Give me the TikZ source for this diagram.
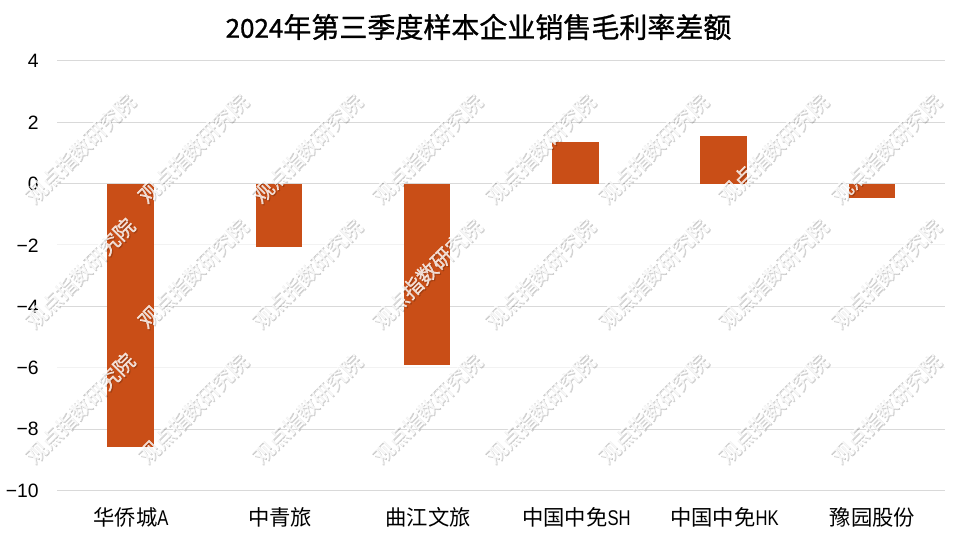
\documentclass[tikz,border=0pt]{standalone}
\usepackage{fontspec}
\setmainfont{Liberation Sans}
\newfontfamily\cjk{Noto Sans CJK SC}
\newfontfamily\cjkb{Noto Sans CJK SC}[FakeBold=1.0]
\newfontfamily\halfw{Liberation Sans}[FakeStretch=0.78]
\definecolor{barcol}{HTML}{C94E17}
\newcommand{\lat}[1]{{\halfw\fontsize{16pt}{18pt}\selectfont #1}}
\tikzset{x=0.75pt,y=-0.75pt,
 gridline/.style={draw=black!15,line width=0.75pt},
 faintline/.style={draw=black!5,line width=0.75pt},
 ylabel/.style={anchor=east,font=\fontsize{14.5pt}{16pt}\selectfont,inner sep=0pt},
 xlabel/.style={anchor=center,font=\cjk\fontsize{16pt}{18pt}\selectfont,inner sep=0pt},
 ttl/.style={anchor=center,font=\cjkb\fontsize{21pt}{24pt}\selectfont,inner sep=0pt},
 wmshadow/.style={rotate=45,anchor=center,inner sep=0pt,text=black,text opacity=0.15,font=\cjkb\fontsize{15.5pt}{17pt}\selectfont},
 wmtext/.style={rotate=45,anchor=center,inner sep=0pt,text=white,text opacity=0.8,font=\cjkb\fontsize{15.5pt}{17pt}\selectfont}}
\begin{document}
\begin{tikzpicture}
\useasboundingbox (0,0) rectangle (957,538);
\fill[white] (0,0) rectangle (957,538);
\foreach \y in {61,122.3,183.5,306.2,429,490.2}{
  \draw[gridline] (57,\y) -- (945,\y);
}
\foreach \y in {245,367.5}{
  \draw[faintline] (57,\y) -- (945,\y);
}
\node[ylabel] (y4) at (39,61) {4};
\node[ylabel] (y2) at (39,123) {2};
\node[ylabel] (y0) at (39,184) {0};
\node[ylabel] (ym2) at (39,246) {−2};
\node[ylabel] (ym4) at (39,307) {−4};
\node[ylabel] (ym6) at (39,368) {−6};
\node[ylabel] (ym8) at (39,429) {−8};
\node[ylabel] (ym10) at (39,491) {−10};
\fill[barcol] (107,184) rectangle (154,447);
\fill[barcol] (256,184) rectangle (302,247);
\fill[barcol] (404,184) rectangle (450,365);
\fill[barcol] (552,142) rectangle (599,184);
\fill[barcol] (700,136) rectangle (747,184);
\fill[barcol] (849,184) rectangle (895,198);
\foreach \y in {148,273,408}{
 \foreach \x in {80,193,307,427,540,653,773,886}{
  \node[wmshadow] at (\x+1.2,\y+1.2) {观点指数研究院};
  \node[wmtext] at (\x,\y) {观点指数研究院};
 }
}
\node[ttl] (title) at (478.5,27) {{\fontsize{19.5pt}{24pt}\selectfont 2024}年第三季度样本企业销售毛利率差额};
\node[xlabel] (a) at (131,517) {华侨城\lat{A}};
\node[xlabel] (b) at (280,517) {中青旅};
\node[xlabel] (c) at (428,517) {曲江文旅};
\node[xlabel] (d) at (576.5,517) {中国中免\lat{SH}};
\node[xlabel] (e) at (724.5,517) {中国中免\lat{HK}};
\node[xlabel] (f) at (872.5,517) {豫园股份};
\end{tikzpicture}
\end{document}
